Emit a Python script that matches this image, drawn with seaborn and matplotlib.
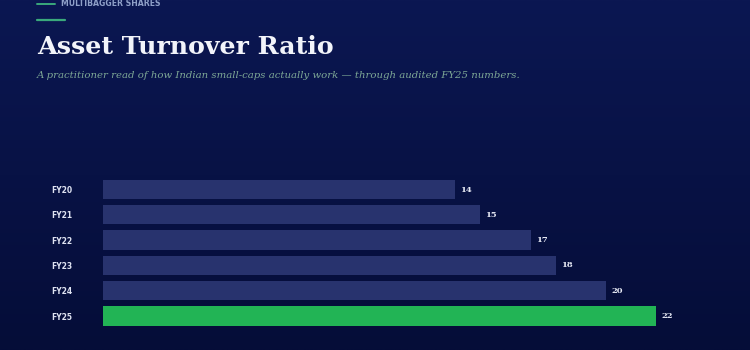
import numpy as np
import pandas as pd
import matplotlib
matplotlib.use("Agg")
import matplotlib.pyplot as plt
import seaborn as sns

categories = ["FY20", "FY21", "FY22", "FY23", "FY24", "FY25"]
values = [14, 15, 17, 18, 20, 22]
highlight = "FY25"

title = "Asset Turnover Ratio"
subtitle = "A practitioner read of how Indian small-caps actually work \u2014 through audited FY25 numbers."
brand = "MULTIBAGGER SHARES"

BAR = "#28336e"
GREEN = "#22b455"

sns.set_theme(style="white")
plt.rcParams["font.family"] = ["DejaVu Sans"]

fig = plt.figure(figsize=(7.5, 3.5), dpi=100)

# gradient background
bg = fig.add_axes([0, 0, 1, 1], zorder=-10)
top = np.array([0x0b, 0x17, 0x52]) / 255
bot = np.array([0x05, 0x0d, 0x38]) / 255
t = np.linspace(0, 1, 256)[:, None]
grad = top[None, :] * (1 - t) + bot[None, :] * t
bg.imshow(grad[:, None, :].repeat(2, axis=1), aspect="auto", extent=[0, 1, 0, 1])
bg.set_axis_off()

df = pd.DataFrame({"cat": categories, "val": values})
palette = {c: (GREEN if c == highlight else BAR) for c in categories}

ax = fig.add_axes([103 / 750, 1 - 328.65 / 350, 609.5 / 750, (328.65 - 176.85) / 350])
sns.barplot(data=df, y="cat", x="val", hue="cat", palette=palette, legend=False,
            orient="h", width=0.76, ax=ax, saturation=1, linewidth=0)
ax.set_facecolor("none")
ax.set_xlim(0, 609.5 / 25.15)
ax.set_ylim(5.5, -0.5)
for s in ax.spines.values():
    s.set_visible(False)
ax.set_xticks([])
ax.set_xlabel("")
ax.set_ylabel("")
ax.tick_params(axis="y", length=0, pad=37, labelsize=5.5, labelcolor="#dfe3f2")
for lab in ax.get_yticklabels():
    lab.set_fontweight("bold")
    lab.set_horizontalalignment("left")

for i, v in enumerate(values):
    ax.text(v + 0.2, i, f"{v}", va="center", ha="left", fontsize=6, fontweight="bold",
            color="#e6e9f4", family="DejaVu Serif")

# header
fig.text(37 / 750, 1 - 47 / 350, title, fontsize=18.2, fontweight="bold", family="DejaVu Serif",
         color="#f2f4fa", va="center", ha="left")
fig.text(37 / 750, 1 - 76 / 350, subtitle, fontsize=7.3, style="italic", family="DejaVu Serif",
         color="#7ea896", va="center", ha="left")
fig.add_artist(plt.Line2D([37 / 750, 65 / 750], [1 - 20 / 350, 1 - 20 / 350], color="#3aa97c", lw=1.6))
fig.add_artist(plt.Line2D([37 / 750, 55 / 750], [1 - 4 / 350, 1 - 4 / 350], color="#3aa97c", lw=1.4))
fig.text(61 / 750, 1 - 4 / 350, brand, fontsize=5.6, fontweight="bold", color="#8fa0c8",
         va="center", ha="left")

fig.savefig("out.png", dpi=100)
